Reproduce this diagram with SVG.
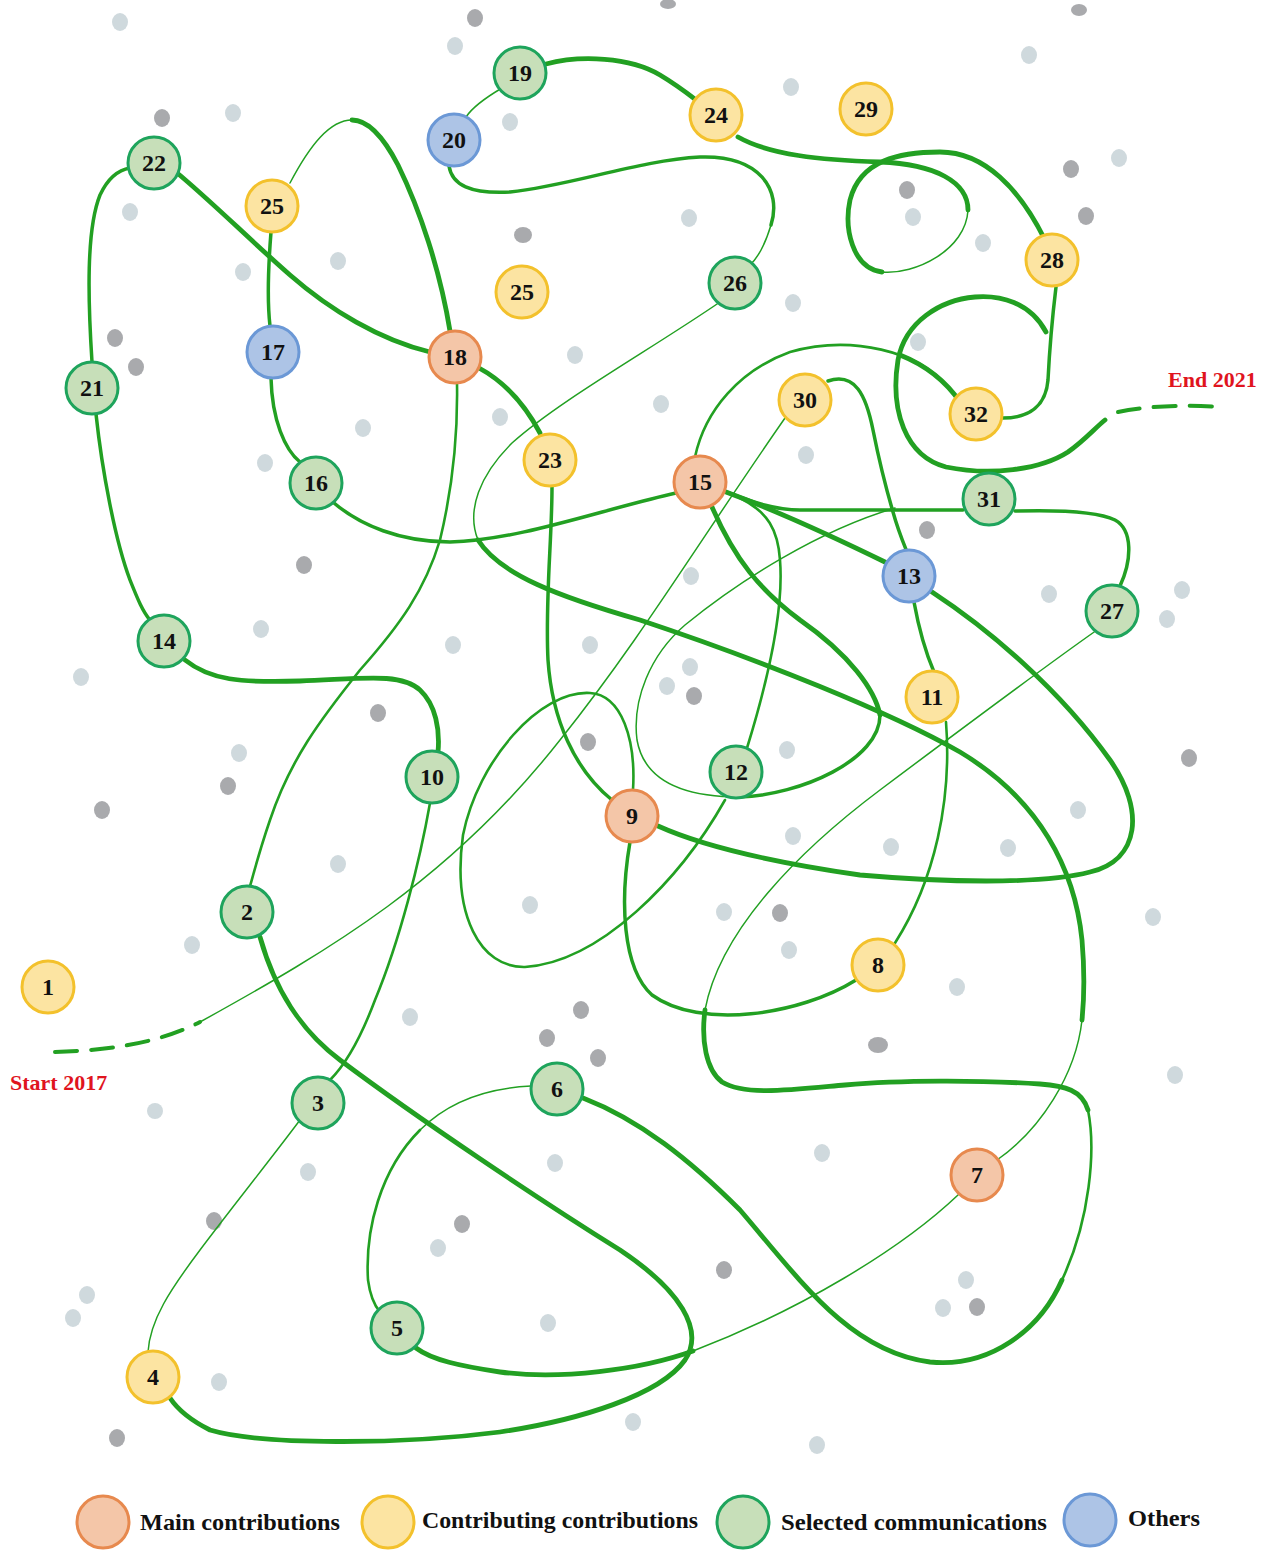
<svg xmlns="http://www.w3.org/2000/svg" width="1283" height="1553" viewBox="0 0 1283 1553">
<style>
.bg{fill:#ffffff}
.dl{fill:#cfd9dd}
.dd{fill:#a9aaad}
.ln{fill:none;stroke:#22a022;stroke-linecap:round;stroke-linejoin:round}
.t1{stroke-width:1.5}
.t2{stroke-width:2.6}
.t3{stroke-width:3.5}
.t4{stroke-width:4.8}
.dash{stroke-width:4;stroke-dasharray:22 14}
.n circle{stroke-width:3}
.main circle{fill:#f4c6a8;stroke:#e7894e}
.contr circle{fill:#fce4a2;stroke:#f3c12c}
.sel circle{fill:#c7dfb9;stroke:#1ea45c}
.oth circle{fill:#adc4e6;stroke:#6b98d6}
.lbl{font-family:"Liberation Serif","DejaVu Serif",serif;font-weight:bold;font-size:24px;fill:#111;text-anchor:middle}
.leg{font-family:"Liberation Serif","DejaVu Serif",serif;font-weight:bold;font-size:24px;fill:#111}
.red{font-family:"Liberation Serif","DejaVu Serif",serif;font-weight:bold;font-size:22px;fill:#e0141e}
</style>
<rect class="bg" x="0" y="0" width="1283" height="1553"/>
<g id="dots">
<ellipse class="dl" cx="120" cy="22" rx="8" ry="9"/>
<ellipse class="dl" cx="455" cy="46" rx="8" ry="9"/>
<ellipse class="dl" cx="510" cy="122" rx="8" ry="9"/>
<ellipse class="dl" cx="233" cy="113" rx="8" ry="9"/>
<ellipse class="dl" cx="130" cy="212" rx="8" ry="9"/>
<ellipse class="dl" cx="243" cy="272" rx="8" ry="9"/>
<ellipse class="dl" cx="338" cy="261" rx="8" ry="9"/>
<ellipse class="dl" cx="689" cy="218" rx="8" ry="9"/>
<ellipse class="dl" cx="791" cy="87" rx="8" ry="9"/>
<ellipse class="dl" cx="1029" cy="55" rx="8" ry="9"/>
<ellipse class="dl" cx="1119" cy="158" rx="8" ry="9"/>
<ellipse class="dl" cx="913" cy="217" rx="8" ry="9"/>
<ellipse class="dl" cx="983" cy="243" rx="8" ry="9"/>
<ellipse class="dl" cx="793" cy="303" rx="8" ry="9"/>
<ellipse class="dl" cx="575" cy="355" rx="8" ry="9"/>
<ellipse class="dl" cx="500" cy="417" rx="8" ry="9"/>
<ellipse class="dl" cx="661" cy="404" rx="8" ry="9"/>
<ellipse class="dl" cx="918" cy="342" rx="8" ry="9"/>
<ellipse class="dl" cx="363" cy="428" rx="8" ry="9"/>
<ellipse class="dl" cx="265" cy="463" rx="8" ry="9"/>
<ellipse class="dl" cx="806" cy="455" rx="8" ry="9"/>
<ellipse class="dl" cx="691" cy="576" rx="8" ry="9"/>
<ellipse class="dl" cx="1049" cy="594" rx="8" ry="9"/>
<ellipse class="dl" cx="1167" cy="619" rx="8" ry="9"/>
<ellipse class="dl" cx="1182" cy="590" rx="8" ry="9"/>
<ellipse class="dl" cx="590" cy="645" rx="8" ry="9"/>
<ellipse class="dl" cx="453" cy="645" rx="8" ry="9"/>
<ellipse class="dl" cx="261" cy="629" rx="8" ry="9"/>
<ellipse class="dl" cx="81" cy="677" rx="8" ry="9"/>
<ellipse class="dl" cx="690" cy="667" rx="8" ry="9"/>
<ellipse class="dl" cx="667" cy="686" rx="8" ry="9"/>
<ellipse class="dl" cx="787" cy="750" rx="8" ry="9"/>
<ellipse class="dl" cx="239" cy="753" rx="8" ry="9"/>
<ellipse class="dl" cx="338" cy="864" rx="8" ry="9"/>
<ellipse class="dl" cx="793" cy="836" rx="8" ry="9"/>
<ellipse class="dl" cx="891" cy="847" rx="8" ry="9"/>
<ellipse class="dl" cx="1008" cy="848" rx="8" ry="9"/>
<ellipse class="dl" cx="1078" cy="810" rx="8" ry="9"/>
<ellipse class="dl" cx="530" cy="905" rx="8" ry="9"/>
<ellipse class="dl" cx="724" cy="912" rx="8" ry="9"/>
<ellipse class="dl" cx="789" cy="950" rx="8" ry="9"/>
<ellipse class="dl" cx="192" cy="945" rx="8" ry="9"/>
<ellipse class="dl" cx="957" cy="987" rx="8" ry="9"/>
<ellipse class="dl" cx="1153" cy="917" rx="8" ry="9"/>
<ellipse class="dl" cx="410" cy="1017" rx="8" ry="9"/>
<ellipse class="dl" cx="1175" cy="1075" rx="8" ry="9"/>
<ellipse class="dl" cx="155" cy="1111" rx="8" ry="8"/>
<ellipse class="dl" cx="555" cy="1163" rx="8" ry="9"/>
<ellipse class="dl" cx="822" cy="1153" rx="8" ry="9"/>
<ellipse class="dl" cx="308" cy="1172" rx="8" ry="9"/>
<ellipse class="dl" cx="438" cy="1248" rx="8" ry="9"/>
<ellipse class="dl" cx="966" cy="1280" rx="8" ry="9"/>
<ellipse class="dl" cx="943" cy="1308" rx="8" ry="9"/>
<ellipse class="dl" cx="87" cy="1295" rx="8" ry="9"/>
<ellipse class="dl" cx="73" cy="1318" rx="8" ry="9"/>
<ellipse class="dl" cx="548" cy="1323" rx="8" ry="9"/>
<ellipse class="dl" cx="219" cy="1382" rx="8" ry="9"/>
<ellipse class="dl" cx="633" cy="1422" rx="8" ry="9"/>
<ellipse class="dl" cx="817" cy="1445" rx="8" ry="9"/>
<ellipse class="dd" cx="475" cy="18" rx="8" ry="9"/>
<ellipse class="dd" cx="668" cy="4" rx="8" ry="5"/>
<ellipse class="dd" cx="1079" cy="10" rx="8" ry="6"/>
<ellipse class="dd" cx="162" cy="118" rx="8" ry="9"/>
<ellipse class="dd" cx="523" cy="235" rx="9" ry="8"/>
<ellipse class="dd" cx="1071" cy="169" rx="8" ry="9"/>
<ellipse class="dd" cx="1086" cy="216" rx="8" ry="9"/>
<ellipse class="dd" cx="907" cy="190" rx="8" ry="9"/>
<ellipse class="dd" cx="115" cy="338" rx="8" ry="9"/>
<ellipse class="dd" cx="136" cy="367" rx="8" ry="9"/>
<ellipse class="dd" cx="304" cy="565" rx="8" ry="9"/>
<ellipse class="dd" cx="378" cy="713" rx="8" ry="9"/>
<ellipse class="dd" cx="694" cy="696" rx="8" ry="9"/>
<ellipse class="dd" cx="588" cy="742" rx="8" ry="9"/>
<ellipse class="dd" cx="228" cy="786" rx="8" ry="9"/>
<ellipse class="dd" cx="102" cy="810" rx="8" ry="9"/>
<ellipse class="dd" cx="780" cy="913" rx="8" ry="9"/>
<ellipse class="dd" cx="1189" cy="758" rx="8" ry="9"/>
<ellipse class="dd" cx="927" cy="530" rx="8" ry="9"/>
<ellipse class="dd" cx="581" cy="1010" rx="8" ry="9"/>
<ellipse class="dd" cx="547" cy="1038" rx="8" ry="9"/>
<ellipse class="dd" cx="598" cy="1058" rx="8" ry="9"/>
<ellipse class="dd" cx="878" cy="1045" rx="10" ry="8"/>
<ellipse class="dd" cx="462" cy="1224" rx="8" ry="9"/>
<ellipse class="dd" cx="214" cy="1221" rx="8" ry="9"/>
<ellipse class="dd" cx="724" cy="1270" rx="8" ry="9"/>
<ellipse class="dd" cx="977" cy="1307" rx="8" ry="9"/>
<ellipse class="dd" cx="117" cy="1438" rx="8" ry="9"/>
</g>
<g id="connectors">
<path class="ln dash" d="M55,1052 C120,1050 165,1040 200,1022"/>
<path class="ln t1" d="M200,1022 C330,950 450,880 560,740 C640,640 700,540 785,418"/>
<path class="ln t3" d="M828,381 C855,372 866,395 873,430 C880,465 888,495 893,512 C898,530 903,542 907,552"/>
<path class="ln t3" d="M914,602 C920,635 928,658 934,672"/>
<path class="ln t2" d="M946,722 C952,800 935,880 895,943"/>
<path class="ln t3" d="M856,980 C800,1015 700,1030 652,995 C622,968 620,900 630,842"/>
<path class="ln t2" d="M633,790 C636,740 622,695 590,693 C540,690 478,760 463,835 C452,915 480,968 525,967 C600,962 680,880 725,800"/>
<path class="ln t3" d="M963,510 L800,510 C772,510 748,500 726,492"/>
<path class="ln t2" d="M747,748 C768,680 784,610 780,560 C778,530 768,512 740,498"/>
<path class="ln t4" d="M726,492 C780,512 840,540 887,563"/>
<path class="ln t4" d="M712,507 C735,560 760,590 800,620 C850,655 875,690 880,715"/>
<path class="ln t3" d="M880,715 C880,760 800,795 740,797"/>
<path class="ln t1" d="M740,797 C690,797 645,785 637,740 C632,700 650,655 685,625 C740,580 820,530 895,508"/>
<path class="ln t2" d="M695,457 C705,410 740,370 790,352 C850,335 920,350 950,390"/>
<path class="ln t4" d="M900,355 C925,365 945,380 960,402"/>
<path class="ln t3" d="M1056,287 C1052,320 1049,360 1048,380 C1046,405 1030,418 1003,418"/>
<path class="ln t4" d="M1046,332 C1030,302 1000,295 975,297 C940,300 905,322 898,360 C890,410 905,456 946,467 C990,476 1040,470 1068,452 C1085,440 1095,428 1105,420"/>
<path class="ln dash" d="M1118,412 C1150,405 1190,405 1222,407"/>
<path class="ln t4" d="M738,137 C770,155 820,160 880,162 C935,164 968,182 968,210"/>
<path class="ln t1" d="M968,210 C966,250 915,275 882,272"/>
<path class="ln t4" d="M882,272 C852,268 844,228 850,200 C860,160 900,152 940,152 C985,152 1020,190 1044,238"/>
<path class="ln t4" d="M546,64 C580,55 630,57 660,75 C680,87 692,97 700,103"/>
<path class="ln t1" d="M502,88 C485,98 472,108 466,117"/>
<path class="ln t3" d="M449,166 C452,185 470,194 510,192 C570,186 640,160 700,157 C760,155 782,190 771,225"/>
<path class="ln t1" d="M771,225 C765,245 758,258 749,266"/>
<path class="ln t1" d="M720,302 C650,350 560,400 512,443 C480,475 466,510 478,540"/>
<path class="ln t4" d="M478,540 C500,575 560,597 640,620 C760,660 890,712 960,752 C1040,800 1075,870 1082,940 C1085,975 1084,1000 1082,1020"/>
<path class="ln t1" d="M1082,1020 C1076,1075 1040,1130 997,1160"/>
<path class="ln t1" d="M958,1195 C900,1250 800,1310 693,1351"/>
<path class="ln t4" d="M693,1351 C640,1370 560,1380 500,1372 C460,1366 432,1360 416,1348"/>
<path class="ln t3" d="M92,362 C88,300 86,230 100,195 C108,178 118,170 130,168"/>
<path class="ln t4" d="M176,172 C210,200 250,240 290,275 C330,310 380,340 430,352"/>
<path class="ln t3" d="M96,414 C102,470 115,540 130,580 C138,600 143,612 150,620"/>
<path class="ln t4" d="M185,660 C210,680 240,683 300,681 C360,679 400,672 420,690 C436,705 440,730 438,752"/>
<path class="ln t2" d="M430,803 C420,860 400,940 375,1000 C360,1040 345,1065 330,1080"/>
<path class="ln t1" d="M300,1120 C270,1160 230,1210 200,1250 C170,1290 150,1320 148,1352"/>
<path class="ln t4" d="M260,937 C275,990 300,1030 340,1060 C420,1120 540,1200 620,1250 C680,1290 705,1330 685,1360 C660,1395 580,1420 500,1432 C400,1445 260,1445 210,1430 C192,1421 178,1410 170,1398"/>
<path class="ln t1" d="M531,1086 C490,1088 450,1100 420,1130"/>
<path class="ln t2" d="M420,1130 C380,1170 365,1230 368,1280 C370,1295 374,1305 380,1312"/>
<path class="ln t4" d="M583,1098 C640,1120 690,1160 740,1210 C800,1280 850,1352 930,1362 C990,1368 1040,1330 1062,1280"/>
<path class="ln t2" d="M1062,1280 C1090,1220 1096,1150 1088,1110"/>
<path class="ln t4" d="M1088,1110 C1082,1090 1065,1086 1040,1084 C980,1080 900,1080 845,1085 C790,1090 745,1096 722,1082 C706,1070 701,1040 705,1010"/>
<path class="ln t1" d="M705,1010 C720,930 800,850 880,790 C960,730 1040,670 1097,630"/>
<path class="ln t3" d="M1120,586 C1132,560 1133,530 1115,520 C1095,510 1050,510 1015,511"/>
<path class="ln t4" d="M932,592 C990,630 1060,690 1110,760 C1145,810 1140,860 1090,872 C1040,885 940,882 860,875 C770,862 700,845 658,826"/>
<path class="ln t3" d="M552,487 C552,540 545,600 548,660 C552,720 575,770 612,800"/>
<path class="ln t4" d="M479,368 C505,382 525,405 540,433"/>
<path class="ln t2" d="M457,383 C458,440 452,490 440,540 C425,590 400,625 360,670 C320,720 290,760 270,820 C258,855 252,880 250,886"/>
<path class="ln t4" d="M450,331 C440,270 420,210 398,165 C385,140 370,120 352,120"/>
<path class="ln t1" d="M352,120 C330,120 310,145 290,183"/>
<path class="ln t3" d="M271,232 C268,270 267,300 270,326"/>
<path class="ln t3" d="M271,378 C272,420 285,450 300,462"/>
<path class="ln t3" d="M334,503 C360,525 400,542 450,542 C520,540 600,510 676,493"/>
</g>
<g id="node1" class="n contr"><circle cx="48" cy="987" r="26"/><text class="lbl" x="48" y="995">1</text></g>
<g id="node2" class="n sel"><circle cx="247" cy="912" r="26"/><text class="lbl" x="247" y="920">2</text></g>
<g id="node3" class="n sel"><circle cx="318" cy="1103" r="26"/><text class="lbl" x="318" y="1111">3</text></g>
<g id="node4" class="n contr"><circle cx="153" cy="1377" r="26"/><text class="lbl" x="153" y="1385">4</text></g>
<g id="node5" class="n sel"><circle cx="397" cy="1328" r="26"/><text class="lbl" x="397" y="1336">5</text></g>
<g id="node6" class="n sel"><circle cx="557" cy="1089" r="26"/><text class="lbl" x="557" y="1097">6</text></g>
<g id="node7" class="n main"><circle cx="977" cy="1175" r="26"/><text class="lbl" x="977" y="1183">7</text></g>
<g id="node8" class="n contr"><circle cx="878" cy="965" r="26"/><text class="lbl" x="878" y="973">8</text></g>
<g id="node9" class="n main"><circle cx="632" cy="816" r="26"/><text class="lbl" x="632" y="824">9</text></g>
<g id="node10" class="n sel"><circle cx="432" cy="777" r="26"/><text class="lbl" x="432" y="785">10</text></g>
<g id="node11" class="n contr"><circle cx="932" cy="697" r="26"/><text class="lbl" x="932" y="705">11</text></g>
<g id="node12" class="n sel"><circle cx="736" cy="772" r="26"/><text class="lbl" x="736" y="780">12</text></g>
<g id="node13" class="n oth"><circle cx="909" cy="576" r="26"/><text class="lbl" x="909" y="584">13</text></g>
<g id="node14" class="n sel"><circle cx="164" cy="641" r="26"/><text class="lbl" x="164" y="649">14</text></g>
<g id="node15" class="n main"><circle cx="700" cy="482" r="26"/><text class="lbl" x="700" y="490">15</text></g>
<g id="node16" class="n sel"><circle cx="316" cy="483" r="26"/><text class="lbl" x="316" y="491">16</text></g>
<g id="node17" class="n oth"><circle cx="273" cy="352" r="26"/><text class="lbl" x="273" y="360">17</text></g>
<g id="node18" class="n main"><circle cx="455" cy="357" r="26"/><text class="lbl" x="455" y="365">18</text></g>
<g id="node19" class="n sel"><circle cx="520" cy="73" r="26"/><text class="lbl" x="520" y="81">19</text></g>
<g id="node20" class="n oth"><circle cx="454" cy="140" r="26"/><text class="lbl" x="454" y="148">20</text></g>
<g id="node21" class="n sel"><circle cx="92" cy="388" r="26"/><text class="lbl" x="92" y="396">21</text></g>
<g id="node22" class="n sel"><circle cx="154" cy="163" r="26"/><text class="lbl" x="154" y="171">22</text></g>
<g id="node23" class="n contr"><circle cx="550" cy="460" r="26"/><text class="lbl" x="550" y="468">23</text></g>
<g id="node24" class="n contr"><circle cx="716" cy="115" r="26"/><text class="lbl" x="716" y="123">24</text></g>
<g id="node25a" class="n contr"><circle cx="272" cy="206" r="26"/><text class="lbl" x="272" y="214">25</text></g>
<g id="node25b" class="n contr"><circle cx="522" cy="292" r="26"/><text class="lbl" x="522" y="300">25</text></g>
<g id="node26" class="n sel"><circle cx="735" cy="283" r="26"/><text class="lbl" x="735" y="291">26</text></g>
<g id="node27" class="n sel"><circle cx="1112" cy="611" r="26"/><text class="lbl" x="1112" y="619">27</text></g>
<g id="node28" class="n contr"><circle cx="1052" cy="260" r="26"/><text class="lbl" x="1052" y="268">28</text></g>
<g id="node29" class="n contr"><circle cx="866" cy="109" r="26"/><text class="lbl" x="866" y="117">29</text></g>
<g id="node30" class="n contr"><circle cx="805" cy="400" r="26"/><text class="lbl" x="805" y="408">30</text></g>
<g id="node31" class="n sel"><circle cx="989" cy="499" r="26"/><text class="lbl" x="989" y="507">31</text></g>
<g id="node32" class="n contr"><circle cx="976" cy="414" r="26"/><text class="lbl" x="976" y="422">32</text></g>
<g id="labels">
<text class="red" x="10" y="1090">Start 2017</text>
<text class="red" x="1168" y="387">End 2021</text>
</g>
<g id="legend">
<g class="n main"><circle cx="103" cy="1522" r="26"/></g>
<text class="leg" x="140" y="1530" textLength="200" lengthAdjust="spacingAndGlyphs">Main contributions</text>
<g class="n contr"><circle cx="388" cy="1522" r="26"/></g>
<text class="leg" x="422" y="1528" textLength="276" lengthAdjust="spacingAndGlyphs">Contributing contributions</text>
<g class="n sel"><circle cx="743" cy="1522" r="26"/></g>
<text class="leg" x="781" y="1530" textLength="266" lengthAdjust="spacingAndGlyphs">Selected communications</text>
<g class="n oth"><circle cx="1090" cy="1520" r="26"/></g>
<text class="leg" x="1128" y="1526" textLength="72" lengthAdjust="spacingAndGlyphs">Others</text>
</g>
</svg>
